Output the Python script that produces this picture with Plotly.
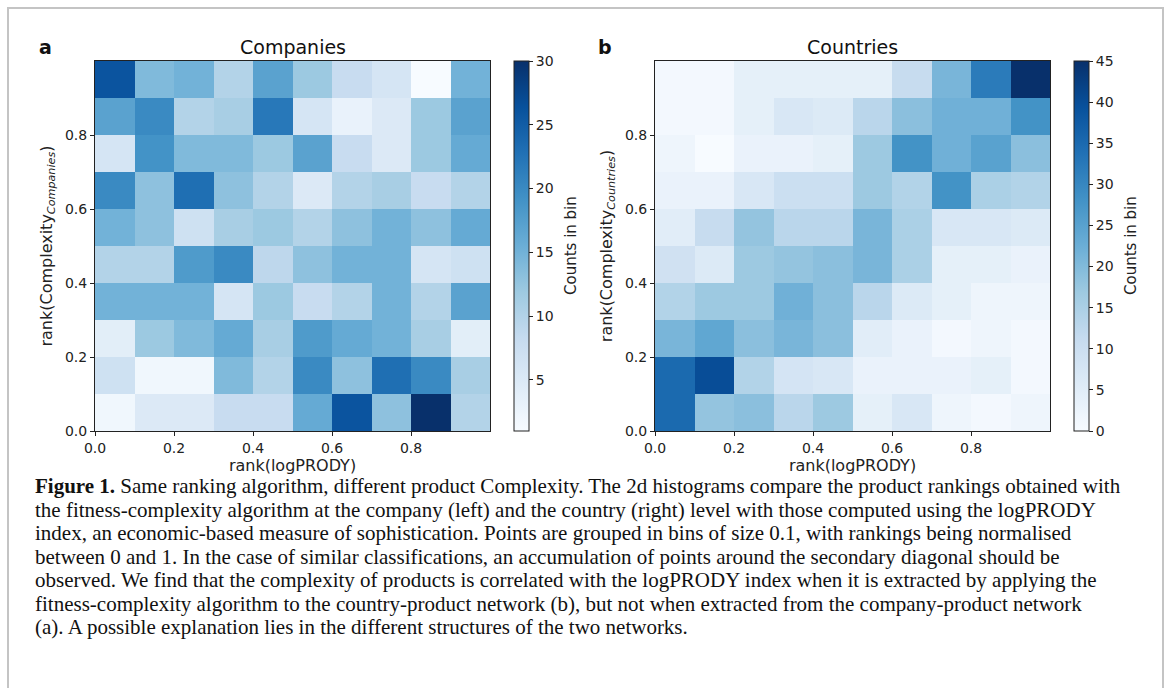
import plotly.graph_objects as go
import plotly.colors as pc

W, H = 1171, 688

# bin centres
bins = [0.05, 0.15, 0.25, 0.35, 0.45, 0.55, 0.65, 0.75, 0.85, 0.95]
tick_vals = [0.0, 0.2, 0.4, 0.6, 0.8]
tick_text = ["0.0", "0.2", "0.4", "0.6", "0.8"]

# Companies: rows from y=0.0-0.1 (bottom) to 0.9-1.0 (top)
companies = [
    [2, 5, 5, 8, 8, 16, 26, 13, 30, 10],
    [7, 2, 2, 14, 10, 20, 13, 23, 20, 11],
    [4, 12, 14, 16, 11, 18, 16, 15, 11, 4],
    [15, 15, 15, 6, 12, 8, 10, 15, 10, 17],
    [10, 10, 18, 20, 9, 13, 15, 15, 6, 7],
    [15, 13, 7, 11, 12, 10, 13, 15, 13, 16],
    [20, 13, 23, 13, 10, 5, 10, 11, 8, 10],
    [6, 19, 14, 14, 12, 17, 8, 5, 12, 16],
    [17, 20, 10, 11, 22, 6, 3, 5, 12, 17],
    [26, 14, 15, 10, 17, 12, 8, 6, 1, 15],
]

countries = [
    [35, 18, 19, 13, 17, 4, 7, 2, 1, 2],
    [35, 40, 14, 8, 7, 3, 3, 3, 4, 1],
    [21, 24, 19, 21, 19, 5, 3, 1, 2, 1],
    [14, 17, 17, 22, 19, 13, 6, 4, 2, 2],
    [9, 6, 17, 18, 19, 21, 15, 4, 4, 3],
    [5, 11, 18, 13, 13, 21, 15, 7, 7, 6],
    [3, 3, 7, 10, 10, 17, 14, 28, 15, 14],
    [2, 0, 3, 3, 4, 17, 28, 22, 25, 19],
    [1, 1, 4, 7, 6, 13, 19, 22, 22, 28],
    [1, 1, 4, 4, 4, 4, 11, 21, 32, 45],
]

comp_cbar_ticks = [5, 10, 15, 20, 25, 30]
ctry_cbar_ticks = [0, 5, 10, 15, 20, 25, 30, 35, 40, 45]

caption_lines = [
    "<b>Figure 1.</b> Same ranking algorithm, different product Complexity. The 2d histograms compare the product rankings obtained with",
    "the fitness-complexity algorithm at the company (left) and the country (right) level with those computed using the logPRODY",
    "index, an economic-based measure of sophistication. Points are grouped in bins of size 0.1, with rankings being normalised",
    "between 0 and 1. In the case of similar classifications, an accumulation of points around the secondary diagonal should be",
    "observed. We find that the complexity of products is correlated with the logPRODY index when it is extracted by applying the",
    "fitness-complexity algorithm to the country-product network (b), but not when extracted from the company-product network",
    "(a). A possible explanation lies in the different structures of the two networks.",
]

blues = pc.sequential.Blues
cs = [[i / (len(blues) - 1), c] for i, c in enumerate(blues)]

def px(x):
    return x / W

def py(y):
    return 1 - y / H

plot_top, plot_bot = 61, 431
panels = [
    dict(x0=95, x1=490, cb=514, z=companies, zmin=1, zmax=30, ticks=comp_cbar_ticks,
         title="Companies", label="a", ylab="rank(Complexity<sub><i>Companies</i></sub>)"),
    dict(x0=655, x1=1050, cb=1074, z=countries, zmin=0, zmax=45, ticks=ctry_cbar_ticks,
         title="Countries", label="b", ylab="rank(Complexity<sub><i>Countries</i></sub>)"),
]

fig = go.Figure()
tickfont = dict(family="DejaVu Sans", size=14, color="#222")
labfont = dict(family="DejaVu Sans", size=16, color="#222")
annotations = []
for i, p in enumerate(panels):
    xa = "x" if i == 0 else "x2"
    ya = "y" if i == 0 else "y2"
    fig.add_trace(go.Heatmap(
        x=bins, y=bins, z=p["z"], xaxis=xa, yaxis=ya,
        colorscale=cs, zmin=p["zmin"], zmax=p["zmax"],
        colorbar=dict(
            x=px(p["cb"]), xanchor="left", xref="paper",
            y=py((plot_top + plot_bot) / 2), yanchor="middle", yref="paper",
            len=(plot_bot - plot_top) / H, lenmode="fraction",
            thickness=15, thicknessmode="pixels",
            outlinewidth=1, outlinecolor="#222",
            tickvals=p["ticks"], ticks="outside", ticklen=4, tickcolor="#222",
            tickfont=tickfont, xpad=0, ypad=0,
        ),
        hoverinfo="skip",
    ))
    axname = "xaxis" if i == 0 else "xaxis2"
    ayname = "yaxis" if i == 0 else "yaxis2"
    fig.layout[axname] = dict(
        domain=[px(p["x0"]), px(p["x1"])], range=[0, 1], anchor=ya, automargin=False,
        tickvals=tick_vals, ticktext=tick_text, ticks="outside", ticklen=4,
        tickcolor="#222", showline=True, linecolor="#222", linewidth=1, mirror=True,
        showgrid=False, zeroline=False, tickfont=tickfont,
        title=dict(text="rank(logPRODY)", font=labfont, standoff=0),
    )
    fig.layout[ayname] = dict(
        domain=[py(plot_bot), py(plot_top)], range=[0, 1], anchor=xa, automargin=False,
        tickvals=tick_vals, ticktext=tick_text, ticks="outside", ticklen=4,
        tickcolor="#222", showline=True, linecolor="#222", linewidth=1, mirror=True,
        showgrid=False, zeroline=False, tickfont=tickfont,
        title=dict(text=p["ylab"], font=labfont, standoff=8),
    )
    annotations.append(dict(
        x=px((p["x0"] + p["x1"]) / 2), y=py(47), xref="paper", yref="paper",
        text=p["title"], showarrow=False, xanchor="center", yanchor="middle",
        font=dict(family="DejaVu Sans", size=19, color="#111"),
    ))
    annotations.append(dict(
        x=px(p["x0"] - 50), y=py(47), xref="paper", yref="paper",
        text="<b>" + p["label"] + "</b>", showarrow=False, xanchor="center", yanchor="middle",
        font=dict(family="DejaVu Sans", size=19, color="#111"),
    ))
    annotations.append(dict(
        x=px(p["cb"] + 57), y=py((plot_top + plot_bot) / 2), xref="paper", yref="paper",
        text="Counts in bin", showarrow=False, textangle=-90, xanchor="center", yanchor="middle",
        font=dict(family="DejaVu Sans", size=15, color="#222"),
    ))

for k, line in enumerate(caption_lines):
    annotations.append(dict(
        x=px(34), y=py(486 + 23.5 * k), xref="paper", yref="paper",
        text=line, showarrow=False, xanchor="left", yanchor="middle", align="left",
        borderpad=0,
        font=dict(family="Liberation Serif", size=21, color="#111"),
    ))

fig.update_layout(
    width=W, height=H, margin=dict(l=0, r=0, t=0, b=0, pad=0, autoexpand=False),
    paper_bgcolor="white", plot_bgcolor="white",
    annotations=annotations, showlegend=False,
    shapes=[dict(type="rect", xref="paper", yref="paper",
                 x0=px(8), x1=px(1163), y0=py(700), y1=py(8),
                 line=dict(color="#c4c4c4", width=2))],
)

fig.write_html(
    "out.html",
    config={"displayModeBar": False},
    post_script=(
        "document.body.style.margin='0px';"
        "document.body.style.overflow='hidden';"
        "document.documentElement.style.overflow='hidden';"
    ),
)
